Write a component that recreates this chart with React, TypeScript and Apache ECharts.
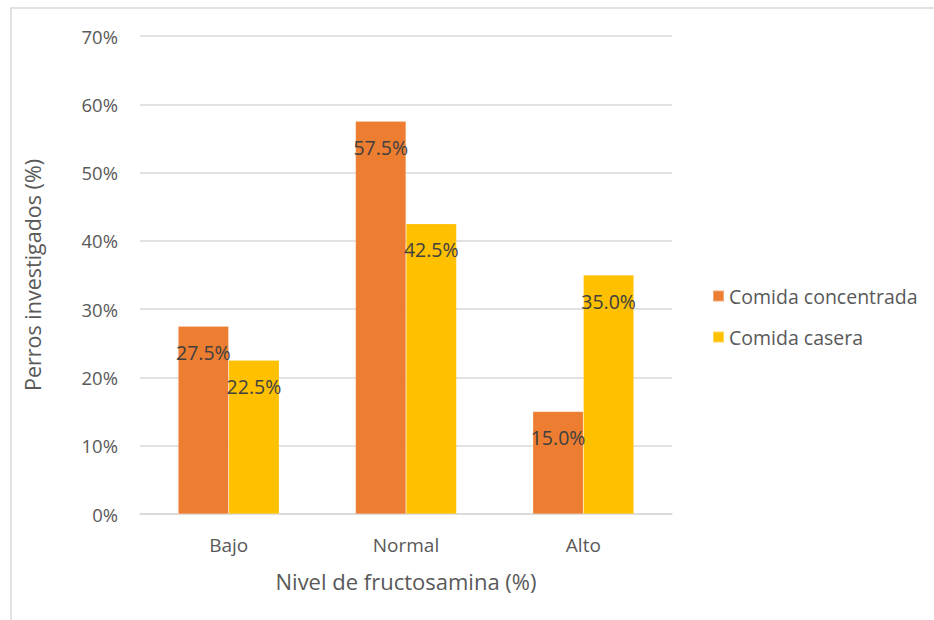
import React, { useEffect, useRef } from "react";
import * as echarts from "echarts";

const categories = ["Bajo", "Normal", "Alto"];
const seriesNames = ["Comida concentrada", "Comida casera"];
const concentrada = [27.5, 57.5, 15.0];
const casera = [22.5, 42.5, 35.0];
const yTicks = { min: 0, max: 70, interval: 10 };
const colors = ["#ED7D31", "#FFC000"];

const FONT = "'Open Sans', 'Noto Sans', sans-serif";

export default function App() {
  const ref = useRef<HTMLDivElement>(null);
  useEffect(() => {
    if (!ref.current) return;
    const chart = echarts.init(ref.current, null, { renderer: "svg" });
    const label = {
      show: true,
      position: "insideTop",
      distance: 16,
      color: "#404040",
      fontSize: 19.5,
      fontFamily: FONT,
      formatter: (p: any) => p.value.toFixed(1) + "%",
    };
    chart.setOption({
      animation: false,
      backgroundColor: "#ffffff",
      textStyle: { fontFamily: FONT },
      graphic: [
        {
          type: "rect",
          shape: { x: 11, y: 8, width: 940, height: 640 },
          style: { fill: "none", stroke: "#d9d9d9", lineWidth: 1.5 },
          silent: true,
        },
      ],
      grid: { left: 140, right: 262, top: 36, bottom: 106, containLabel: false },
      legend: {
        orient: "vertical",
        left: 707,
        top: 281,
        itemWidth: 11,
        itemHeight: 11,
        itemGap: 21,
        icon: "rect",
        textStyle: { color: "#595959", fontSize: 19.5, fontFamily: FONT, padding: [0, 0, 0, 0] },
        data: seriesNames,
      },
      xAxis: {
        type: "category",
        data: categories,
        name: "Nivel de fructosamina (%)",
        nameLocation: "middle",
        nameGap: 56,
        nameTextStyle: { color: "#595959", fontSize: 22, fontFamily: FONT },
        axisLine: { lineStyle: { color: "#d9d9d9", width: 1.5 } },
        axisTick: { show: false },
        axisLabel: { color: "#595959", fontSize: 19, fontFamily: FONT, margin: 21 },
      },
      yAxis: {
        type: "value",
        min: yTicks.min,
        max: yTicks.max,
        interval: yTicks.interval,
        name: "Perros investigados (%)",
        nameLocation: "middle",
        nameGap: 97,
        nameTextStyle: { color: "#595959", fontSize: 21.5, fontFamily: FONT },
        axisLine: { show: false },
        axisTick: { show: false },
        splitLine: { lineStyle: { color: "#d9d9d9", width: 1.5 } },
        axisLabel: {
          color: "#595959",
          fontSize: 18.5,
          fontFamily: FONT,
          margin: 22,
          formatter: (v: number) => v + "%",
        },
      },
      series: [
        {
          name: seriesNames[0],
          type: "bar",
          data: concentrada,
          barWidth: "28.5%",
          barGap: "0%",
          itemStyle: { color: colors[0], borderColor: "rgba(255,255,255,0.35)", borderWidth: 0.5 },
          label,
        },
        {
          name: seriesNames[1],
          type: "bar",
          data: casera,
          barWidth: "28.5%",
          barGap: "0%",
          itemStyle: { color: colors[1], borderColor: "rgba(255,255,255,0.35)", borderWidth: 0.5 },
          label,
        },
      ],
    });
    return () => chart.dispose();
  }, []);
  return (
    <div
      ref={ref}
      style={{ position: "absolute", left: 0, top: 0, width: 934, height: 620 }}
    />
  );
}
